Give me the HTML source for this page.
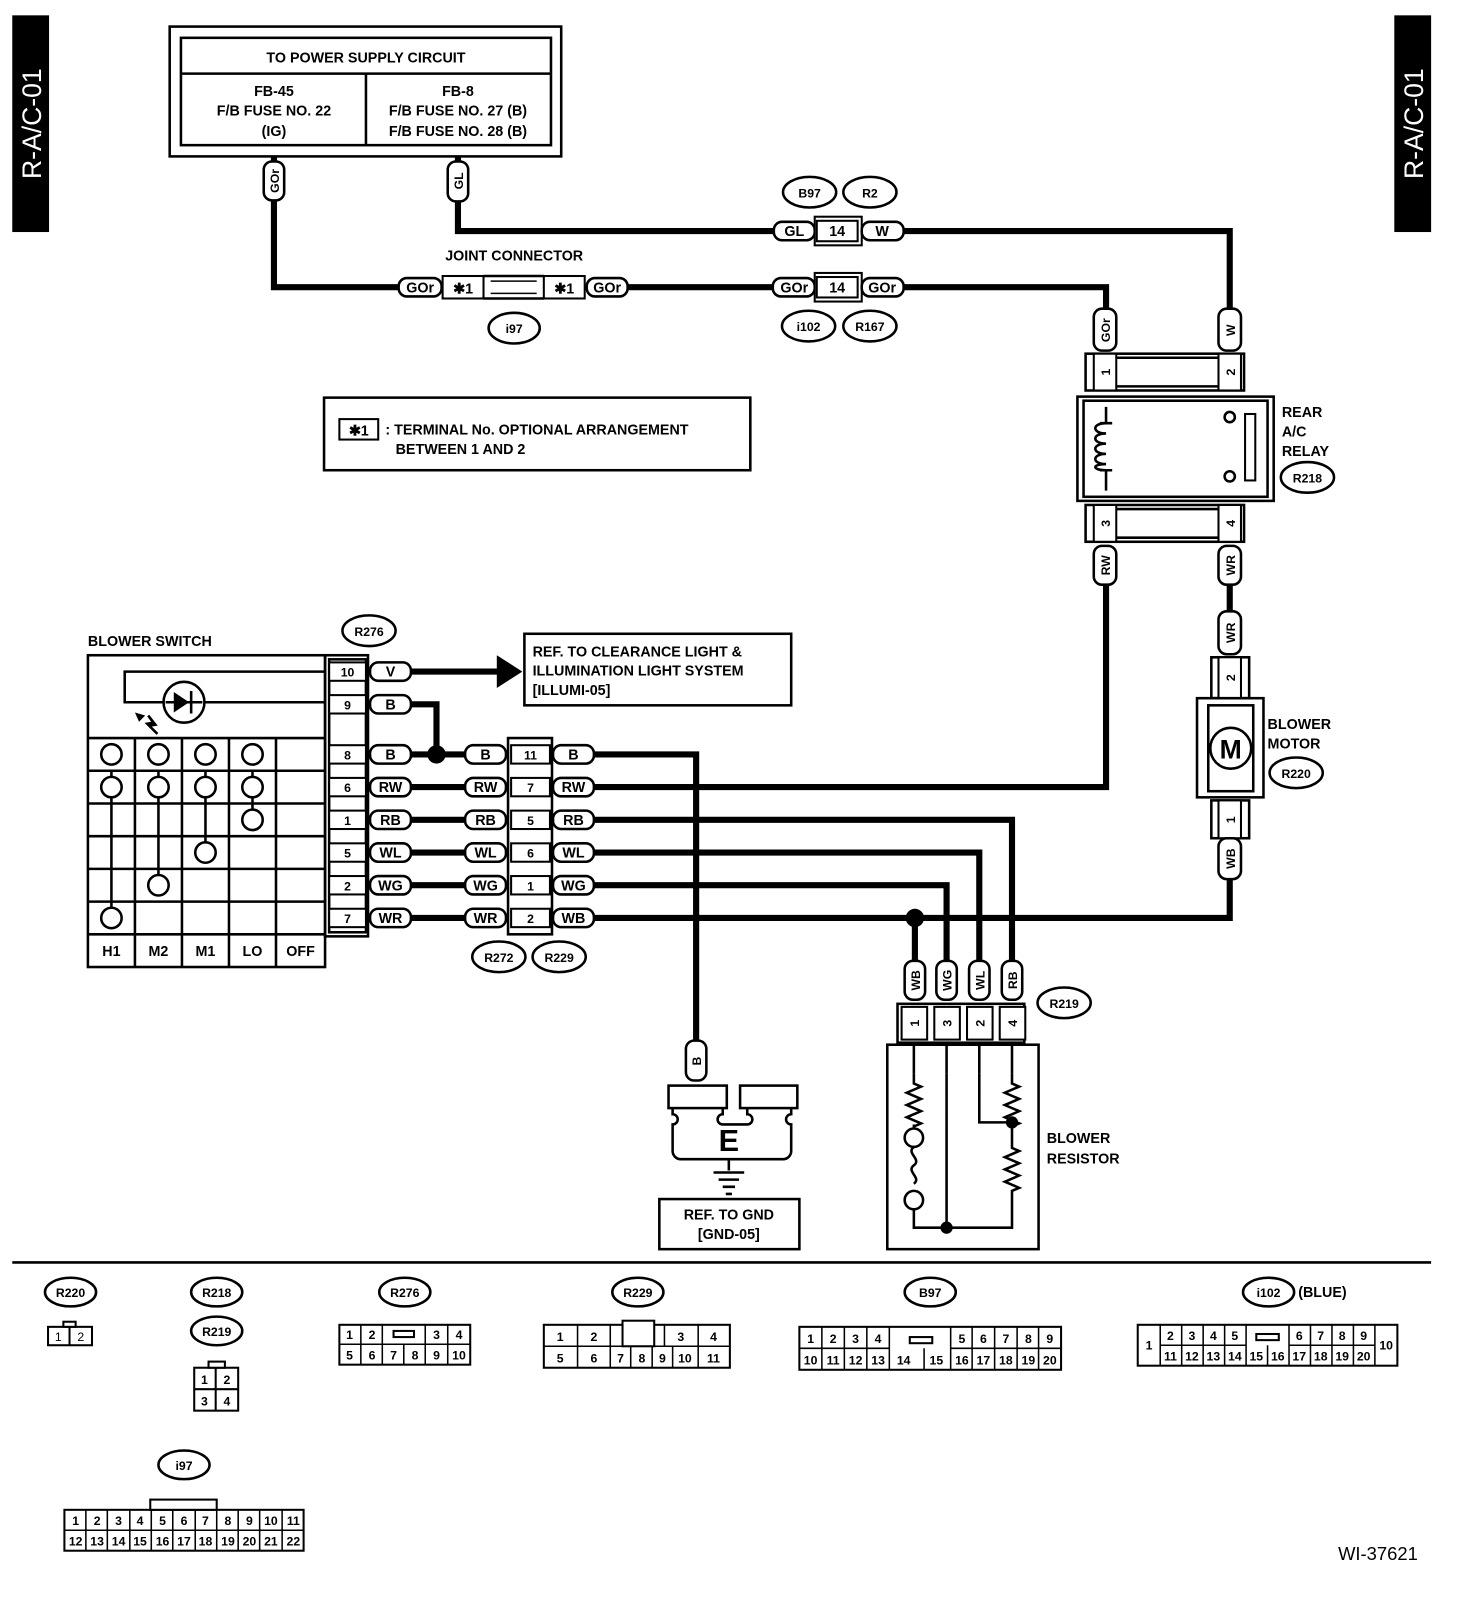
<!DOCTYPE html>
<html><head><meta charset="utf-8"><style>
html,body{margin:0;padding:0;background:#fff}
svg{display:block}
text{font-family:"Liberation Sans",Arial,sans-serif;font-weight:bold;fill:#000}
.t{font-size:14px}
.s{font-size:12px}
.p{fill:#fff;stroke:#000;stroke-width:2.5}
.w{fill:none;stroke:#000;stroke-width:6}
.l{fill:none;stroke:#000;stroke-width:2.5}
.b{fill:#fff;stroke:#000;stroke-width:2}
</style></head><body>
<svg width="1472" height="1610" viewBox="0 0 1440 1575" xmlns="http://www.w3.org/2000/svg">
<!-- side tabs -->
<rect x="12" y="15" width="36" height="212" fill="#000"/>
<text transform="translate(40,121) rotate(-90)" text-anchor="middle" font-size="26" style="fill:#fff;font-weight:normal">R-A/C-01</text>
<rect x="1364" y="15" width="36" height="212" fill="#000"/>
<text transform="translate(1392,121) rotate(-90)" text-anchor="middle" font-size="26" style="fill:#fff;font-weight:normal">R-A/C-01</text>

<!-- power supply box -->
<rect x="166" y="26" width="383" height="127" class="l"/>
<rect x="177" y="37" width="362" height="105" class="l"/>
<line x1="177" y1="72" x2="539" y2="72" class="l"/>
<line x1="358" y1="72" x2="358" y2="142" class="l"/>
<text x="358" y="61" text-anchor="middle" class="t">TO POWER SUPPLY CIRCUIT</text>
<text x="268" y="94" text-anchor="middle" class="t">FB-45</text>
<text x="268" y="113" text-anchor="middle" class="t">F/B FUSE NO. 22</text>
<text x="268" y="133" text-anchor="middle" class="t">(IG)</text>
<text x="448" y="94" text-anchor="middle" class="t">FB-8</text>
<text x="448" y="113" text-anchor="middle" class="t">F/B FUSE NO. 27 (B)</text>
<text x="448" y="133" text-anchor="middle" class="t">F/B FUSE NO. 28 (B)</text>

<!-- wires top -->
<polyline points="268,195 268,281 390,281" class="w"/>
<line x1="614" y1="281" x2="756" y2="281" class="w"/>
<polyline points="884,281 1082,281 1082,302" class="w"/>
<polyline points="448,197 448,226 757,226" class="w"/>
<polyline points="884,226 1203,226 1203,302" class="w"/>
<line x1="268" y1="153" x2="268" y2="160" class="w"/>
<line x1="448" y1="153" x2="448" y2="160" class="w"/>

<rect x="258" y="158" width="20" height="38" rx="8" class="p"/><text transform="translate(273,177) rotate(-90)" text-anchor="middle" class="s">GOr</text>
<rect x="438" y="158" width="20" height="39" rx="8" class="p"/><text transform="translate(453,177) rotate(-90)" text-anchor="middle" class="s">GL</text>

<!-- joint connector -->
<text x="503" y="255" text-anchor="middle" class="t">JOINT CONNECTOR</text>
<rect x="390" y="272" width="42" height="18" rx="8" class="p"/><text x="411" y="286" text-anchor="middle" class="t">GOr</text>
<rect x="433" y="270" width="40" height="22" class="b"/><text x="453" y="287" text-anchor="middle" class="t">✱1</text>
<line x1="473" y1="270" x2="532" y2="270" class="l"/><line x1="473" y1="292" x2="532" y2="292" class="l"/>
<line x1="480" y1="275" x2="525" y2="275" stroke="#000" stroke-width="1.5"/><line x1="480" y1="287" x2="525" y2="287" stroke="#000" stroke-width="1.5"/>
<rect x="532" y="270" width="40" height="22" class="b"/><text x="552" y="287" text-anchor="middle" class="t">✱1</text>
<rect x="574" y="272" width="40" height="18" rx="8" class="p"/><text x="594" y="286" text-anchor="middle" class="t">GOr</text>
<ellipse cx="503" cy="321" rx="25" ry="15" class="p"/><text x="503" y="326" text-anchor="middle" class="s">i97</text>

<ellipse cx="792" cy="188" rx="26" ry="15" class="p"/><text x="792" y="193" text-anchor="middle" class="s">B97</text>
<ellipse cx="851" cy="188" rx="26" ry="15" class="p"/><text x="851" y="193" text-anchor="middle" class="s">R2</text>
<rect x="757" y="217" width="40" height="18" rx="8" class="p"/><text x="777" y="231" text-anchor="middle" class="t">GL</text>
<rect x="797" y="212" width="46" height="28" class="b"/><rect x="799" y="216" width="40" height="20" class="b"/><text x="819" y="231" text-anchor="middle" class="t">14</text>
<rect x="843" y="217" width="41" height="18" rx="8" class="p"/><text x="863" y="231" text-anchor="middle" class="t">W</text>
<rect x="756" y="272" width="41" height="18" rx="8" class="p"/><text x="777" y="286" text-anchor="middle" class="t">GOr</text>
<rect x="797" y="267" width="46" height="28" class="b"/><rect x="799" y="271" width="40" height="20" class="b"/><text x="819" y="286" text-anchor="middle" class="t">14</text>
<rect x="843" y="272" width="41" height="18" rx="8" class="p"/><text x="863" y="286" text-anchor="middle" class="t">GOr</text>
<ellipse cx="791" cy="319" rx="26" ry="15" class="p"/><text x="791" y="324" text-anchor="middle" class="s">i102</text>
<ellipse cx="851" cy="319" rx="26" ry="15" class="p"/><text x="851" y="324" text-anchor="middle" class="s">R167</text>

<!-- note box -->
<rect x="317" y="389" width="417" height="71" class="l"/>
<rect x="332" y="410" width="38" height="20" class="b"/><text x="351" y="426" text-anchor="middle" class="t">✱1</text>
<text x="377" y="425" class="t">: TERMINAL No. OPTIONAL ARRANGEMENT</text>
<text x="387" y="444" class="t">BETWEEN 1 AND 2</text>

<!-- relay -->
<rect x="1070" y="302" width="22" height="41" rx="8" class="p"/><text transform="translate(1086,323) rotate(-90)" text-anchor="middle" class="s">GOr</text>
<rect x="1192" y="302" width="22" height="41" rx="8" class="p"/><text transform="translate(1208,323) rotate(-90)" text-anchor="middle" class="s">W</text>
<rect x="1062" y="346" width="155" height="36" class="l"/>
<rect x="1070" y="346" width="22" height="36" class="b"/><text transform="translate(1086,364) rotate(-90)" text-anchor="middle" class="s">1</text>
<rect x="1192" y="346" width="22" height="36" class="b"/><text transform="translate(1208,364) rotate(-90)" text-anchor="middle" class="s">2</text>
<line x1="1092" y1="350" x2="1192" y2="350" class="l"/><line x1="1092" y1="378" x2="1192" y2="378" class="l"/>
<rect x="1054" y="388" width="192" height="102" class="l"/>
<rect x="1060" y="392" width="180" height="94" class="l" stroke-width="1.5"/>
<path d="M1082,398 V414 M1082,460 V480 M1076,414 h12 M1076,460 h12" class="l"/>
<path d="M1082,414 c-14,0 -14,10 0,10 c-14,0 -14,10 0,10 c-14,0 -14,10 0,10 c-14,0 -14,10 0,10 c-14,0 -14,6 0,6" class="l"/>
<circle cx="1203" cy="408" r="5" class="p"/><circle cx="1203" cy="466" r="5" class="p"/>
<rect x="1218" y="405" width="10" height="65" class="b"/>
<text x="1254" y="408" class="t">REAR</text><text x="1254" y="427" class="t">A/C</text><text x="1254" y="446" class="t">RELAY</text>
<ellipse cx="1279" cy="467" rx="26" ry="15" class="p"/><text x="1279" y="472" text-anchor="middle" class="s">R218</text>
<rect x="1062" y="494" width="155" height="36" class="l"/>
<rect x="1070" y="494" width="22" height="36" class="b"/><text transform="translate(1086,512) rotate(-90)" text-anchor="middle" class="s">3</text>
<rect x="1192" y="494" width="22" height="36" class="b"/><text transform="translate(1208,512) rotate(-90)" text-anchor="middle" class="s">4</text>
<line x1="1092" y1="498" x2="1192" y2="498" class="l"/><line x1="1092" y1="526" x2="1192" y2="526" class="l"/>
<rect x="1070" y="534" width="22" height="38" rx="8" class="p"/><text transform="translate(1086,553) rotate(-90)" text-anchor="middle" class="s">RW</text>
<rect x="1192" y="534" width="22" height="38" rx="8" class="p"/><text transform="translate(1208,553) rotate(-90)" text-anchor="middle" class="s">WR</text>

<!-- motor -->
<line x1="1203" y1="572" x2="1203" y2="598" class="w"/>
<rect x="1192" y="598" width="22" height="42" rx="8" class="p"/><text transform="translate(1208,619) rotate(-90)" text-anchor="middle" class="s">WR</text>
<rect x="1185" y="643" width="37" height="40" class="l"/><rect x="1192" y="643" width="22" height="40" class="b"/><text transform="translate(1208,663) rotate(-90)" text-anchor="middle" class="s">2</text>
<rect x="1171" y="683" width="65" height="97" class="l"/>
<rect x="1182" y="690" width="44" height="84" class="l" stroke-width="1.5"/>
<circle cx="1204" cy="732" r="20" class="p" stroke-width="3"/><text x="1204" y="742" text-anchor="middle" font-size="26">M</text>
<rect x="1185" y="783" width="37" height="37" class="l"/><rect x="1192" y="783" width="22" height="37" class="b"/><text transform="translate(1208,802) rotate(-90)" text-anchor="middle" class="s">1</text>
<rect x="1192" y="820" width="22" height="40" rx="8" class="p"/><text transform="translate(1208,840) rotate(-90)" text-anchor="middle" class="s">WB</text>
<text x="1240" y="713" class="t">BLOWER</text><text x="1240" y="732" class="t">MOTOR</text>
<ellipse cx="1268" cy="756" rx="26" ry="15" class="p"/><text x="1268" y="761" text-anchor="middle" class="s">R220</text>

<!-- main wires -->
<polyline points="1082,572 1082,770 582,770" class="w"/>
<polyline points="1203,860 1203,898 582,898" class="w"/>
<polyline points="582,738 681,738 681,1018" class="w"/>
<polyline points="582,802 990,802 990,940" class="w"/>
<polyline points="582,834 958,834 958,940" class="w"/>
<polyline points="582,866 926,866 926,940" class="w"/>
<line x1="895" y1="898" x2="895" y2="940" class="w"/>
<circle cx="895" cy="898" r="9" fill="#000"/>
<line x1="402" y1="738" x2="455" y2="738" class="w"/>
<line x1="402" y1="770" x2="455" y2="770" class="w"/>
<line x1="402" y1="802" x2="455" y2="802" class="w"/>
<line x1="402" y1="834" x2="455" y2="834" class="w"/>
<line x1="402" y1="866" x2="455" y2="866" class="w"/>
<line x1="402" y1="898" x2="455" y2="898" class="w"/>
<polyline points="402,689 427,689 427,738" class="w"/>
<circle cx="427" cy="738" r="9" fill="#000"/>
<line x1="402" y1="657" x2="490" y2="657" class="w"/>
<polygon points="486,641 511,657 486,673" fill="#000"/>
<rect x="513" y="620" width="261" height="70" class="l"/>
<text x="521" y="642" class="t">REF. TO CLEARANCE LIGHT &amp;</text>
<text x="521" y="661" class="t">ILLUMINATION LIGHT SYSTEM</text>
<text x="521" y="680" class="t">[ILLUMI-05]</text>

<!-- blower switch -->
<text x="86" y="632" class="t">BLOWER SWITCH</text>
<rect x="86" y="641" width="232" height="305" class="l"/>
<path d="M86,722 H318 M86,754 H318 M86,786 H318 M86,818 H318 M86,850 H318 M86,882 H318 M86,914 H318 M132,722 V946 M178,722 V946 M224,722 V946 M270,722 V946" class="l"/>
<polyline points="318,657 122,657 122,687 318,687" class="l" stroke-width="3"/>
<circle cx="180" cy="687" r="20" class="p"/>
<line x1="162" y1="687" x2="198" y2="687" class="l"/>
<polygon points="170,677 170,697 185,687" fill="#000"/><line x1="187" y1="676" x2="187" y2="698" class="l" stroke-width="3"/>
<polyline points="154,718 144,708 150,707 145,700 152,709 146,710" class="l"/>
<polygon points="132,697 142,700 136,706" fill="#000"/>
<path d="M109,754 V898 M155,754 V866 M201,754 V834 M247,754 V802" class="l"/>
<g class="p" stroke-width="2.5">
<circle cx="109" cy="738" r="10"/><circle cx="155" cy="738" r="10"/><circle cx="201" cy="738" r="10"/><circle cx="247" cy="738" r="10"/>
<circle cx="109" cy="770" r="10"/><circle cx="155" cy="770" r="10"/><circle cx="201" cy="770" r="10"/><circle cx="247" cy="770" r="10"/>
<circle cx="247" cy="802" r="10"/><circle cx="201" cy="834" r="10"/><circle cx="155" cy="866" r="10"/><circle cx="109" cy="898" r="10"/>
</g>
<text x="109" y="935" text-anchor="middle" class="t">H1</text><text x="155" y="935" text-anchor="middle" class="t">M2</text><text x="201" y="935" text-anchor="middle" class="t">M1</text><text x="247" y="935" text-anchor="middle" class="t">LO</text><text x="294" y="935" text-anchor="middle" class="t">OFF</text>

<!-- R276 connector -->
<ellipse cx="361" cy="617" rx="26" ry="15" class="p"/><text x="361" y="622" text-anchor="middle" class="s">R276</text>
<rect x="318" y="641" width="42" height="275" class="l"/>
<rect x="322" y="645" width="36" height="267" class="l" stroke-width="1.5"/>
<g class="b">
<rect x="322" y="648" width="36" height="18"/><rect x="322" y="680" width="36" height="18"/><rect x="322" y="729" width="36" height="18"/><rect x="322" y="761" width="36" height="18"/><rect x="322" y="793" width="36" height="18"/><rect x="322" y="825" width="36" height="18"/><rect x="322" y="857" width="36" height="18"/><rect x="322" y="889" width="36" height="18"/>
</g>
<g text-anchor="middle" class="s"><text x="340" y="662">10</text><text x="340" y="694">9</text><text x="340" y="743">8</text><text x="340" y="775">6</text><text x="340" y="807">1</text><text x="340" y="839">5</text><text x="340" y="871">2</text><text x="340" y="903">7</text></g>
<g class="p"><rect x="362" y="648" width="40" height="18" rx="8"/><rect x="362" y="680" width="40" height="18" rx="8"/><rect x="362" y="729" width="40" height="18" rx="8"/><rect x="362" y="761" width="40" height="18" rx="8"/><rect x="362" y="793" width="40" height="18" rx="8"/><rect x="362" y="825" width="40" height="18" rx="8"/><rect x="362" y="857" width="40" height="18" rx="8"/><rect x="362" y="889" width="40" height="18" rx="8"/></g>
<g text-anchor="middle" class="t"><text x="382" y="662">V</text><text x="382" y="694">B</text><text x="382" y="743">B</text><text x="382" y="775">RW</text><text x="382" y="807">RB</text><text x="382" y="839">WL</text><text x="382" y="871">WG</text><text x="382" y="903">WR</text></g>

<!-- R272/R229 -->
<g class="p"><rect x="455" y="729" width="40" height="18" rx="8"/><rect x="455" y="761" width="40" height="18" rx="8"/><rect x="455" y="793" width="40" height="18" rx="8"/><rect x="455" y="825" width="40" height="18" rx="8"/><rect x="455" y="857" width="40" height="18" rx="8"/><rect x="455" y="889" width="40" height="18" rx="8"/>
<rect x="541" y="729" width="40" height="18" rx="8"/><rect x="541" y="761" width="40" height="18" rx="8"/><rect x="541" y="793" width="40" height="18" rx="8"/><rect x="541" y="825" width="40" height="18" rx="8"/><rect x="541" y="857" width="40" height="18" rx="8"/><rect x="541" y="889" width="40" height="18" rx="8"/></g>
<g text-anchor="middle" class="t"><text x="475" y="743">B</text><text x="475" y="775">RW</text><text x="475" y="807">RB</text><text x="475" y="839">WL</text><text x="475" y="871">WG</text><text x="475" y="903">WR</text>
<text x="561" y="743">B</text><text x="561" y="775">RW</text><text x="561" y="807">RB</text><text x="561" y="839">WL</text><text x="561" y="871">WG</text><text x="561" y="903">WB</text></g>
<rect x="497" y="722" width="43" height="192" class="l"/>
<g class="b"><rect x="500" y="729" width="38" height="18"/><rect x="500" y="761" width="38" height="18"/><rect x="500" y="793" width="38" height="18"/><rect x="500" y="825" width="38" height="18"/><rect x="500" y="857" width="38" height="18"/><rect x="500" y="889" width="38" height="18"/></g>
<g text-anchor="middle" class="s"><text x="519" y="743">11</text><text x="519" y="775">7</text><text x="519" y="807">5</text><text x="519" y="839">6</text><text x="519" y="871">1</text><text x="519" y="903">2</text></g>
<ellipse cx="488" cy="936" rx="26" ry="15" class="p"/><text x="488" y="941" text-anchor="middle" class="s">R272</text>
<ellipse cx="547" cy="936" rx="26" ry="15" class="p"/><text x="547" y="941" text-anchor="middle" class="s">R229</text>

<!-- ground -->
<rect x="671" y="1018" width="20" height="39" rx="8" class="p"/><text transform="translate(686,1038) rotate(-90)" text-anchor="middle" class="s">B</text>
<rect x="654" y="1062" width="57" height="22" class="l"/><rect x="724" y="1062" width="56" height="22" class="l"/>
<path d="M658,1084 v6 a5,5 0 0 1 0,10 v26 a8,8 0 0 0 8,8 h100 a8,8 0 0 0 8,-8 v-26 a5,5 0 0 1 0,-10 v-6 M707,1084 v6 a5,5 0 0 0 0,10 h24 a5,5 0 0 0 0,-10 v-6" class="l"/>
<text x="713" y="1126" text-anchor="middle" font-size="30">E</text>
<path d="M713,1135 V1145 M698,1147 H728 M703,1154 H723 M707,1161 H719 M710,1168 H716" class="l"/>
<rect x="645" y="1173" width="137" height="49" class="l"/>
<text x="713" y="1193" text-anchor="middle" class="t">REF. TO GND</text><text x="713" y="1212" text-anchor="middle" class="t">[GND-05]</text>

<!-- blower resistor -->
<g class="p"><rect x="885" y="940" width="20" height="38" rx="8"/><rect x="916" y="940" width="20" height="38" rx="8"/><rect x="948" y="940" width="20" height="38" rx="8"/><rect x="980" y="940" width="20" height="38" rx="8"/></g>
<g class="s" text-anchor="middle"><text transform="translate(900,959) rotate(-90)">WB</text><text transform="translate(931,959) rotate(-90)">WG</text><text transform="translate(963,959) rotate(-90)">WL</text><text transform="translate(995,959) rotate(-90)">RB</text></g>
<rect x="878" y="982" width="124" height="38" class="l"/>
<g class="b"><rect x="882" y="985" width="25" height="32"/><rect x="914" y="985" width="25" height="32"/><rect x="946" y="985" width="25" height="32"/><rect x="978" y="985" width="25" height="32"/></g>
<g class="s" text-anchor="middle"><text transform="translate(899,1001) rotate(-90)">1</text><text transform="translate(931,1001) rotate(-90)">3</text><text transform="translate(963,1001) rotate(-90)">2</text><text transform="translate(995,1001) rotate(-90)">4</text></g>
<ellipse cx="1041" cy="981" rx="26" ry="15" class="p"/><text x="1041" y="986" text-anchor="middle" class="s">R219</text>
<rect x="868" y="1022" width="148" height="200" class="l" stroke-width="3"/>
<path d="M894,1050 V1060 l7,3 -14,6 14,6 -14,6 14,6 -14,6 14,6 -7,3 V1100" class="l"/>
<circle cx="894" cy="1113" r="9" class="p"/>
<path d="M894,1122 c-8,6 8,12 0,18 c-8,6 8,12 0,18" class="l"/>
<circle cx="894" cy="1174" r="9" class="p"/>
<path d="M894,1183 V1201 H990 V1165 l7,-3 -14,-6 14,-6 -14,-6 14,-6 -14,-6 14,-6 -7,-3 V1098" class="l"/>
<path d="M990,1050 V1060 l7,3 -14,6 14,6 -14,6 14,6 -14,6 14,6 -7,3 V1098 M958,1050 V1098 H990 M926,1050 V1201" class="l"/>
<circle cx="990" cy="1098" r="6" fill="#000"/><circle cx="926" cy="1201" r="6" fill="#000"/>
<path d="M894,1020 V1050 M926,1020 V1050 M958,1020 V1050 M990,1020 V1050" class="l"/>
<text x="1024" y="1118" class="t">BLOWER</text><text x="1024" y="1138" class="t">RESISTOR</text>

<line x1="12" y1="1235" x2="1400" y2="1235" class="l"/>

<!-- bottom connectors -->
<ellipse cx="69" cy="1264" rx="25" ry="14" class="p"/><text x="69" y="1269" text-anchor="middle" class="s">R220</text>
<rect x="47" y="1298" width="43" height="18" class="b"/><line x1="68" y1="1298" x2="68" y2="1316" stroke="#000" stroke-width="2"/><rect x="62" y="1293" width="12" height="5" class="b"/>
<text x="57" y="1312" text-anchor="middle" class="s" style="font-weight:normal">1</text><text x="79" y="1312" text-anchor="middle" class="s" style="font-weight:normal">2</text>

<ellipse cx="212" cy="1264" rx="25" ry="14" class="p"/><text x="212" y="1269" text-anchor="middle" class="s">R218</text>
<ellipse cx="212" cy="1302" rx="25" ry="14" class="p"/><text x="212" y="1307" text-anchor="middle" class="s">R219</text>
<rect x="190" y="1338" width="43" height="42" class="b"/><line x1="211" y1="1338" x2="211" y2="1380" stroke="#000" stroke-width="2"/><line x1="190" y1="1359" x2="233" y2="1359" stroke="#000" stroke-width="2"/><rect x="204" y="1332" width="16" height="6" class="b"/>
<g class="s" text-anchor="middle" style="font-weight:normal"><text x="200" y="1354">1</text><text x="222" y="1354">2</text><text x="200" y="1375">3</text><text x="222" y="1375">4</text></g>

<ellipse cx="396" cy="1264" rx="25" ry="14" class="p"/><text x="396" y="1269" text-anchor="middle" class="s">R276</text>
<rect x="332" y="1296" width="128" height="39" class="b"/>
<path d="M332,1315 H460 M353,1296 V1335 M374,1296 V1335 M395,1315 V1335 M416,1296 V1335 M438,1296 V1335" stroke="#000" stroke-width="1.5"/>
<rect x="385" y="1302" width="20" height="6" class="b" stroke-width="1.5"/>
<g class="s" text-anchor="middle" style="font-weight:normal"><text x="342" y="1310">1</text><text x="364" y="1310">2</text><text x="427" y="1310">3</text><text x="449" y="1310">4</text>
<text x="342" y="1330">5</text><text x="364" y="1330">6</text><text x="385" y="1330">7</text><text x="406" y="1330">8</text><text x="427" y="1330">9</text><text x="449" y="1330">10</text></g>

<ellipse cx="624" cy="1264" rx="25" ry="14" class="p"/><text x="624" y="1269" text-anchor="middle" class="s">R229</text>
<rect x="532" y="1296" width="182" height="42" class="b"/>
<path d="M532,1317 H714 M565,1296 V1338 M597,1296 V1338 M617,1317 V1338 M638,1317 V1338 M658,1317 V1338 M683,1296 V1338 M650,1296 V1317" stroke="#000" stroke-width="1.5"/>
<rect x="609" y="1292" width="31" height="25" class="b" stroke-width="1.5"/>
<g class="s" text-anchor="middle" style="font-weight:normal"><text x="548" y="1312">1</text><text x="581" y="1312">2</text><text x="666" y="1312">3</text><text x="698" y="1312">4</text>
<text x="548" y="1333">5</text><text x="581" y="1333">6</text><text x="607" y="1333">7</text><text x="628" y="1333">8</text><text x="648" y="1333">9</text><text x="670" y="1333">10</text><text x="698" y="1333">11</text></g>

<ellipse cx="910" cy="1264" rx="25" ry="14" class="p"/><text x="910" y="1269" text-anchor="middle" class="s">B97</text>
<rect x="782" y="1298" width="256" height="42" class="b"/>
<path d="M782,1319 H870 M930,1319 H1038 M804,1298 V1340 M826,1298 V1340 M848,1298 V1340 M870,1298 V1340 M904,1319 V1340 M930,1298 V1340 M951,1298 V1340 M973,1298 V1340 M995,1298 V1340 M1016,1298 V1340" stroke="#000" stroke-width="1.5"/>
<rect x="890" y="1308" width="22" height="6" class="b" stroke-width="1.5"/>
<g class="s" text-anchor="middle" style="font-weight:normal"><text x="793" y="1314">1</text><text x="815" y="1314">2</text><text x="837" y="1314">3</text><text x="859" y="1314">4</text><text x="941" y="1314">5</text><text x="962" y="1314">6</text><text x="984" y="1314">7</text><text x="1006" y="1314">8</text><text x="1027" y="1314">9</text>
<text x="793" y="1335">10</text><text x="815" y="1335">11</text><text x="837" y="1335">12</text><text x="859" y="1335">13</text><text x="884" y="1335">14</text><text x="916" y="1335">15</text><text x="941" y="1335">16</text><text x="962" y="1335">17</text><text x="984" y="1335">18</text><text x="1006" y="1335">19</text><text x="1027" y="1335">20</text></g>

<ellipse cx="1241" cy="1264" rx="25" ry="14" class="p"/><text x="1241" y="1269" text-anchor="middle" class="s">i102</text>
<text x="1270" y="1269" class="t">(BLUE)</text>
<rect x="1113" y="1296" width="254" height="40" class="b"/>
<path d="M1135,1296 V1336 M1345,1296 V1336 M1135,1316 H1219 M1261,1316 H1345 M1156,1296 V1336 M1177,1296 V1336 M1198,1296 V1336 M1219,1296 V1336 M1240,1316 V1336 M1261,1296 V1336 M1282,1296 V1336 M1303,1296 V1336 M1324,1296 V1336" stroke="#000" stroke-width="1.5"/>
<rect x="1229" y="1305" width="22" height="6" class="b" stroke-width="1.5"/>
<g class="s" text-anchor="middle" style="font-weight:normal"><text x="1124" y="1320">1</text><text x="1356" y="1320">10</text>
<text x="1145" y="1311">2</text><text x="1166" y="1311">3</text><text x="1187" y="1311">4</text><text x="1208" y="1311">5</text><text x="1271" y="1311">6</text><text x="1292" y="1311">7</text><text x="1313" y="1311">8</text><text x="1334" y="1311">9</text>
<text x="1145" y="1331">11</text><text x="1166" y="1331">12</text><text x="1187" y="1331">13</text><text x="1208" y="1331">14</text><text x="1229" y="1331">15</text><text x="1250" y="1331">16</text><text x="1271" y="1331">17</text><text x="1292" y="1331">18</text><text x="1313" y="1331">19</text><text x="1334" y="1331">20</text></g>

<ellipse cx="180" cy="1433" rx="25" ry="14" class="p"/><text x="180" y="1438" text-anchor="middle" class="s">i97</text>
<rect x="63" y="1477" width="234" height="40" class="b"/>
<rect x="147" y="1467" width="65" height="10" class="b" stroke-width="1.5"/>
<path d="M63,1497 H297 M84,1477 V1517 M105,1477 V1517 M127,1477 V1517 M148,1477 V1517 M169,1477 V1517 M191,1477 V1517 M212,1477 V1517 M233,1477 V1517 M254,1477 V1517 M276,1477 V1517" stroke="#000" stroke-width="1.5"/>
<g class="s" text-anchor="middle" style="font-weight:normal"><text x="74" y="1492">1</text><text x="95" y="1492">2</text><text x="116" y="1492">3</text><text x="137" y="1492">4</text><text x="159" y="1492">5</text><text x="180" y="1492">6</text><text x="201" y="1492">7</text><text x="223" y="1492">8</text><text x="244" y="1492">9</text><text x="265" y="1492">10</text><text x="287" y="1492">11</text>
<text x="74" y="1512">12</text><text x="95" y="1512">13</text><text x="116" y="1512">14</text><text x="137" y="1512">15</text><text x="159" y="1512">16</text><text x="180" y="1512">17</text><text x="201" y="1512">18</text><text x="223" y="1512">19</text><text x="244" y="1512">20</text><text x="265" y="1512">21</text><text x="287" y="1512">22</text></g>

<text x="1348" y="1526" text-anchor="middle" font-size="18" style="font-weight:normal">WI-37621</text>
</svg>
</body></html>
